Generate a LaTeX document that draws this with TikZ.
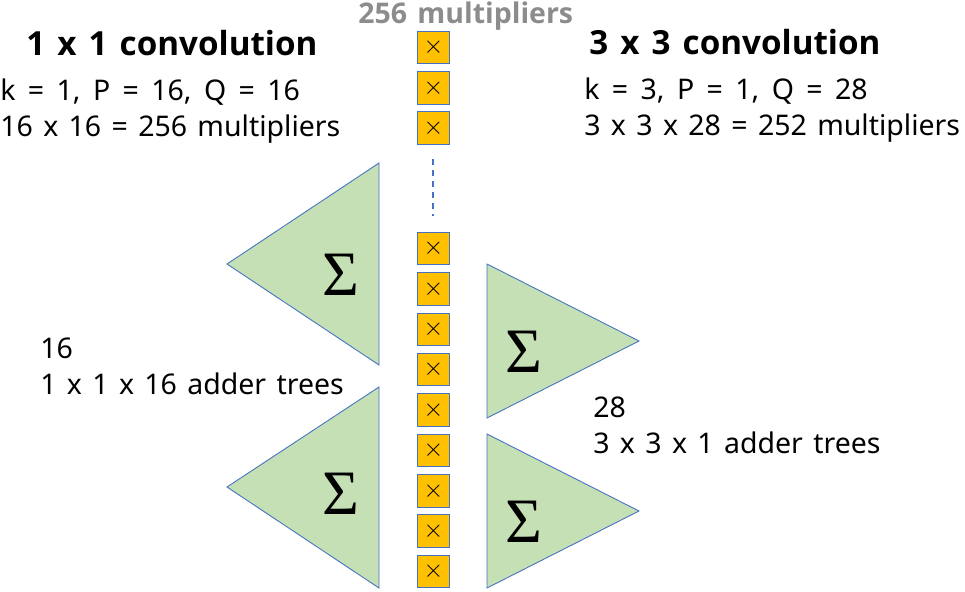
\documentclass[tikz,border=0pt]{standalone}
\usepackage{fontspec}
\setmainfont[WordSpace=1.4,BoldFont={Open Sans Bold}]{Noto Sans}
\newfontfamily\sumfont{Liberation Serif}
\newfontfamily\widefont[WordSpace=1.68]{Noto Sans}
\usepackage{tikz}
\definecolor{mulfill}{HTML}{FFC000}
\definecolor{addfill}{HTML}{C5E0B4}
\definecolor{edgeblue}{HTML}{4472C4}
\definecolor{headgray}{HTML}{8C8C8C}
\tikzset{
	mulbox/.style={draw=edgeblue, fill=mulfill, line width=0.7pt, minimum size=0.65cm, inner sep=0pt, font=\fontsize{15}{15}\selectfont},
	adder/.style={draw=edgeblue, fill=addfill, line width=0.5pt, line join=miter},
	sumsign/.style={inner sep=0pt, font=\fontsize{36}{36}\sumfont},
	heading/.style={anchor=base west, inner sep=0pt, font=\fontsize{18.9}{20}\selectfont\bfseries},
	body/.style={anchor=base west, inner sep=0pt, align=left, font=\fontsize{16.2}{20.4}\selectfont}
}

\begin{document}
\begin{tikzpicture}
	\useasboundingbox (0,0) rectangle (19.3,11.82);

	% adder trees
	\draw[adder] (7.58,8.56) -- (7.58,4.52) -- (4.54,6.54) -- cycle;
	\draw[adder] (7.58,4.08) -- (7.58,0.06) -- (4.54,2.08) -- cycle;
	\draw[adder] (9.74,6.54) -- (9.74,3.46) -- (12.78,5.00) -- cycle;
	\draw[adder] (9.74,3.14) -- (9.74,0.06) -- (12.78,1.60) -- cycle;
	\node[sumsign] (sumA) at (6.82,6.32) {Σ};
	\node[sumsign] (sumB) at (6.82,1.94) {Σ};
	\node[sumsign] (sumC) at (10.48,4.78) {Σ};
	\node[sumsign] (sumD) at (10.48,1.38) {Σ};

	% column of multipliers
	\foreach \i/\y in {1/10.87,2/10.06,3/9.26,4/6.85,5/6.04,6/5.23,7/4.43,8/3.62,9/2.81,10/2.00,11/1.20,12/0.39}
		\node[mulbox] (mul\i) at (8.67,\y) {\raisebox{-2.2pt}{$\times$}};

	\coordinate (gapTop) at (8.66,8.64);
	\coordinate (gapBot) at (8.66,7.50);
	\draw[draw=edgeblue, line width=1.1pt, dash pattern=on 3.4pt off 2.9pt] (gapTop) -- (gapBot);

	\node[anchor=base west, inner sep=0pt, text=headgray, font=\fontsize{16.2}{15}\selectfont\bfseries] (total) at (7.16,11.36) {256 multipliers};

	% left column
	\node[heading] (titleL) at (0.52,10.72) {1 x 1 convolution};
	\node[body] (infoL) at (0,9.10) {{\widefont k = 1, P = 16, Q = 16}\\16 x 16 = 256 multipliers};
	\node[body] (treeL) at (0.80,3.94) {16\\1 x 1 x 16 adder trees};

	% right column
	\node[heading] (titleR) at (11.78,10.74) {3 x 3 convolution};
	\node[body] (infoR) at (11.68,9.12) {{\widefont k = 3, P = 1, Q = 28}\\3 x 3 x 28 = 252 multipliers};
	\node[body] (treeR) at (11.86,2.76) {28\\3 x 3 x 1 adder trees};
\end{tikzpicture}
\end{document}
